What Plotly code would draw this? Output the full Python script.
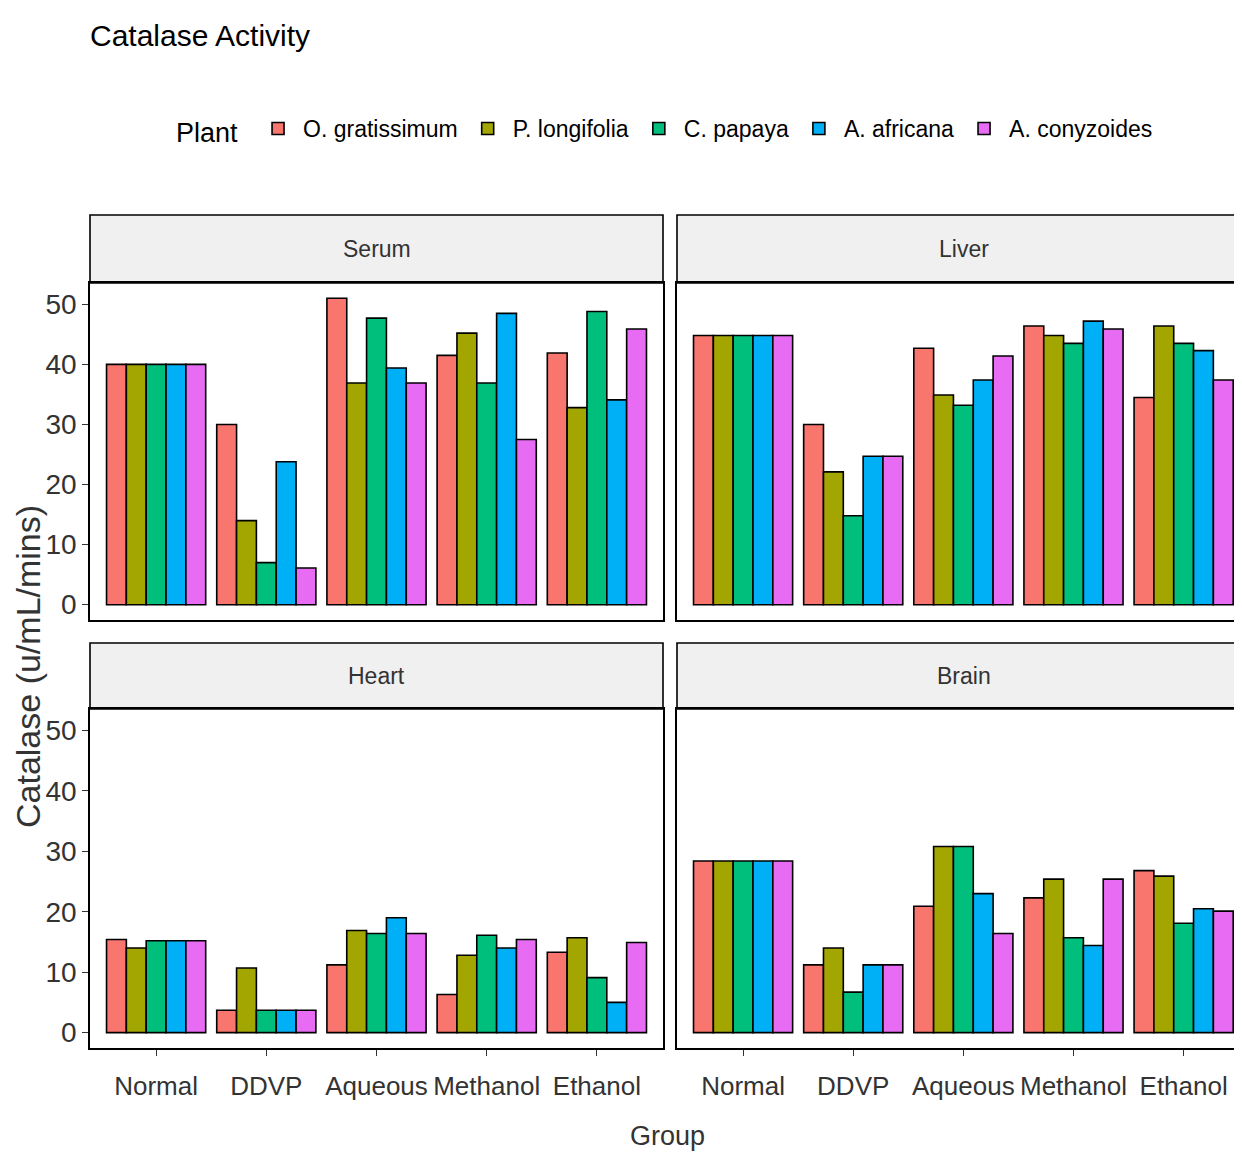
import plotly.graph_objects as go

groups = ["Normal", "DDVP", "Aqueous", "Methanol", "Ethanol"]
plants = ["O. gratissimum", "P. longifolia", "C. papaya", "A. africana", "A. conyzoides"]
colors = ["#F8766D", "#A3A500", "#00BF7D", "#00B0F6", "#E76BF3"]

# rows: plants, columns: groups
serum = [
    [40.0, 30.0, 51.0, 41.5, 41.9],
    [40.0, 14.0, 36.9, 45.2, 32.8],
    [40.0, 7.0, 47.7, 36.9, 48.8],
    [40.0, 23.8, 39.4, 48.5, 34.1],
    [40.0, 6.1, 36.9, 27.5, 45.9],
]
liver = [
    [44.8, 30.0, 42.7, 46.4, 34.5],
    [44.8, 22.1, 34.9, 44.8, 46.4],
    [44.8, 14.8, 33.2, 43.5, 43.5],
    [44.8, 24.7, 37.4, 47.2, 42.3],
    [44.8, 24.7, 41.4, 45.9, 37.4],
]
heart = [
    [15.4, 3.7, 11.2, 6.3, 13.3],
    [14.0, 10.7, 16.9, 12.8, 15.7],
    [15.2, 3.7, 16.4, 16.1, 9.1],
    [15.2, 3.7, 19.0, 14.0, 5.0],
    [15.2, 3.7, 16.4, 15.4, 14.9],
]
brain = [
    [28.4, 11.2, 20.9, 22.3, 26.8],
    [28.4, 14.0, 30.8, 25.4, 25.9],
    [28.4, 6.7, 30.8, 15.7, 18.1],
    [28.4, 11.2, 23.0, 14.4, 20.5],
    [28.4, 11.2, 16.4, 25.4, 20.1],
]
y_ticks = [0, 10, 20, 30, 40, 50]

# page body has an 8px margin: the figure occupies window pixels 8..1242
OFF = 8
W, H = 1242 - OFF, 1156 - OFF
FONT = "Liberation Sans, Arial, sans-serif"
TXT = "#333333"

def px(v):
    return (v - OFF) / W

def py(v):
    return 1 - (v - OFF) / H

panels = [
    ("Serum", serum, "x", "y"),
    ("Liver", liver, "x2", "y2"),
    ("Heart", heart, "x3", "y3"),
    ("Brain", brain, "x4", "y4"),
]

fig = go.Figure()
for pi, (name, data, xa, ya) in enumerate(panels):
    for i, p in enumerate(plants):
        fig.add_trace(go.Bar(
            x=groups, y=data[i], name=p,
            marker=dict(color=colors[i], line=dict(color="black", width=1.6)),
            xaxis=xa, yaxis=ya, showlegend=(pi == 0), legendgroup=p,
            offsetgroup=str(i),
        ))

left = [px(90), px(663)]
right = [px(677), 1.0]
top = [py(620), py(283)]
bot = [py(1048), py(709)]
yrange = [-2.55, 53.55]

def xax(domain, anchor, showlabels, rng):
    return dict(domain=domain, anchor=anchor, type="category", range=rng,
                showline=True, linecolor="black", linewidth=1.6, mirror=True,
                showgrid=False, zeroline=False, automargin=False, tickangle=0,
                ticks="outside" if showlabels else "", ticklen=6, tickcolor=TXT,
                ticklabelstandoff=8,
                showticklabels=showlabels,
                tickfont=dict(family=FONT, size=26, color=TXT))

def yax(domain, anchor, showlabels, mirror):
    return dict(domain=domain, anchor=anchor, range=yrange,
                tickvals=y_ticks, showline=True, linecolor="black", linewidth=1.6,
                mirror=mirror, showgrid=False, zeroline=False, automargin=False,
                ticks="outside" if showlabels else "", ticklen=6, tickcolor=TXT,
                showticklabels=showlabels,
                tickfont=dict(family=FONT, size=28, color=TXT))

rng_l = [-0.6, 4.6]
rng_r = [-0.6, 4.53]

shapes = []
annotations = []
strip_specs = [
    ("Serum", left, (215, 283)),
    ("Liver", right, (215, 283)),
    ("Heart", left, (643, 709)),
    ("Brain", right, (643, 709)),
]
for name, xd, (yt, yb) in strip_specs:
    is_right = xd[1] >= 1
    shapes.append(dict(type="rect", xref="paper", yref="paper",
                       x0=xd[0], x1=xd[1] + (0.01 if is_right else 0), y0=py(yb), y1=py(yt),
                       fillcolor="#F0F0F0", line=dict(color="black", width=1.6),
                       layer="below"))
    cx = (xd[0] + px(1250)) / 2 if is_right else (xd[0] + xd[1]) / 2
    annotations.append(dict(text=name, xref="paper", yref="paper",
                            x=cx, y=py((yt + yb) / 2), showarrow=False,
                            font=dict(family=FONT, size=23, color=TXT),
                            xanchor="center", yanchor="middle"))

annotations.append(dict(text="Catalase (u/mL/mins)", xref="paper", yref="paper",
                        x=px(28), y=py(667), textangle=-90, showarrow=False,
                        font=dict(family=FONT, size=34, color=TXT),
                        xanchor="center", yanchor="middle"))
annotations.append(dict(text="Group", xref="paper", yref="paper",
                        x=px(668), y=py(1136), showarrow=False,
                        font=dict(family=FONT, size=27, color=TXT),
                        xanchor="center", yanchor="middle"))

fig.update_layout(
    width=W, height=H,
    margin=dict(l=0, r=0, t=0, b=0),
    paper_bgcolor="white", plot_bgcolor="white",
    barmode="group", bargap=0.1, bargroupgap=0,
    title=dict(text="Catalase Activity", x=px(90), xanchor="left",
               y=py(35), yanchor="middle", xref="paper", yref="paper",
               automargin=False,
               font=dict(family=FONT, size=30, color="black")),
    legend=dict(orientation="h", x=px(174), xanchor="left", y=py(130), yanchor="middle",
                title=dict(text="Plant ", side="left",
                           font=dict(family=FONT, size=27, color="black")),
                font=dict(family=FONT, size=23, color="black"),
                itemwidth=40, bgcolor="rgba(0,0,0,0)", traceorder="normal"),
    xaxis=xax(left, "y", False, rng_l),
    yaxis=yax(top, "x", True, True),
    xaxis2=xax(right, "y2", False, rng_r),
    yaxis2=yax(top, "x2", False, False),
    xaxis3=xax(left, "y3", True, rng_l),
    yaxis3=yax(bot, "x3", True, True),
    xaxis4=xax(right, "y4", True, rng_r),
    yaxis4=yax(bot, "x4", False, False),
    shapes=shapes,
    annotations=annotations,
)

fig.write_html("out.html")
